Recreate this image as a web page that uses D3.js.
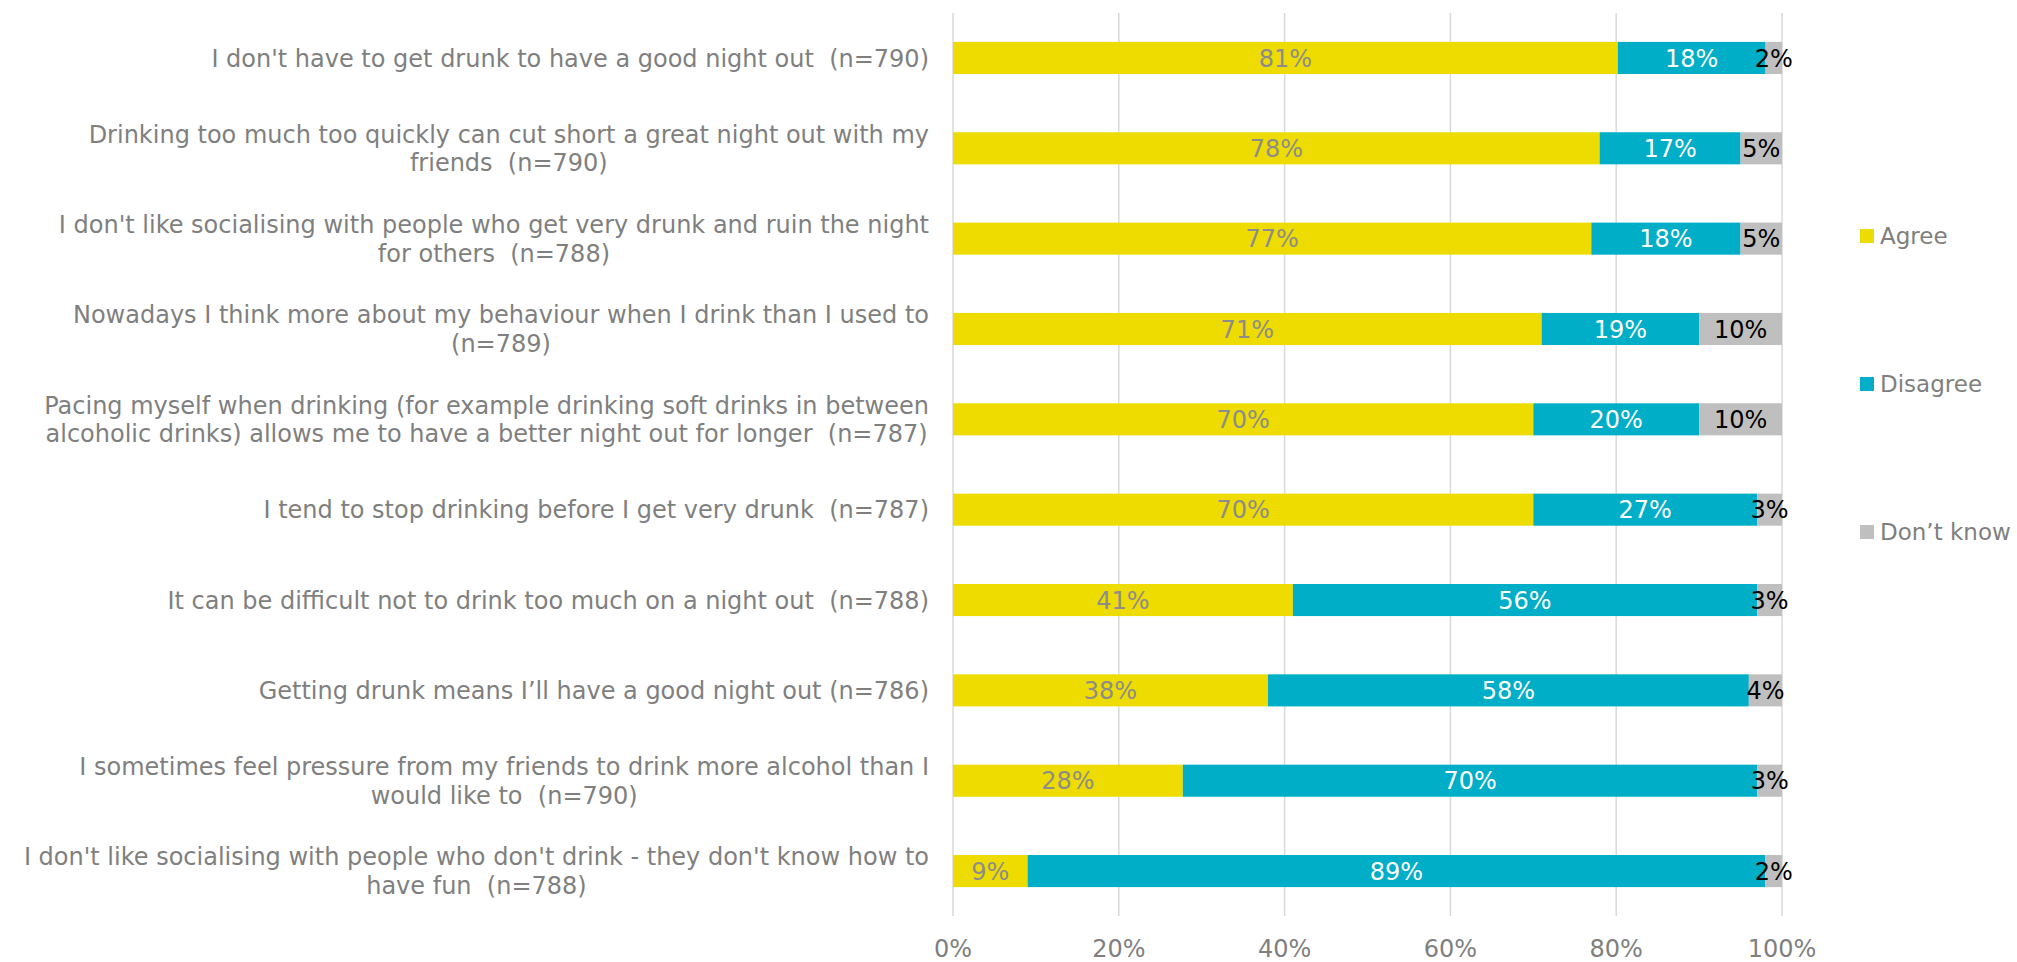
<!DOCTYPE html>
<html>
<head>
<meta charset="utf-8">
<script src="https://cdn.jsdelivr.net/npm/d3@7"></script>
<style>
  html, body { margin: 0; padding: 0; background: #ffffff; }
  svg { display: block; font-family: "DejaVu Sans", Verdana, sans-serif; }
  text { white-space: pre; }
</style>
</head>
<body>
<svg id="chart" width="2017" height="962"></svg>
<script>
// Survey statements (each entry holds the wrapped lines of the label)
const statements = [
  ["I don't have to get drunk to have a good night out  (n=790)"],
  ["Drinking too much too quickly can cut short a great night out with my", "friends  (n=790)"],
  ["I don't like socialising with people who get very drunk and ruin the night", "for others  (n=788)"],
  ["Nowadays I think more about my behaviour when I drink than I used to", "(n=789)"],
  ["Pacing myself when drinking (for example drinking soft drinks in between", "alcoholic drinks) allows me to have a better night out for longer  (n=787)"],
  ["I tend to stop drinking before I get very drunk  (n=787)"],
  ["It can be difficult not to drink too much on a night out  (n=788)"],
  ["Getting drunk means I\u2019ll have a good night out (n=786)"],
  ["I sometimes feel pressure from my friends to drink more alcohol than I", "would like to  (n=790)"],
  ["I don't like socialising with people who don't drink - they don't know how to", "have fun  (n=788)"]
];

// Response shares (%)
const agree    = [81, 78, 77, 71, 70, 70, 41, 38, 28, 9];
const disagree = [18, 17, 18, 19, 20, 27, 56, 58, 70, 89];
const dontKnow = [2, 5, 5, 10, 10, 3, 3, 4, 3, 2];

const seriesNames = ["Agree", "Disagree", "Don\u2019t know"];
const xTicks = [0, 0.2, 0.4, 0.6, 0.8, 1.0];

const colors = ["#EEDC00", "#00AEC7", "#BFBFBF"];
const labelColors = ["#8C8C8C", "#FFFFFF", "#000000"];
const textGray = "#7F7F7F";
const fontSize = 24;
const legendFontSize = 23;

const svg = d3.select("#chart");

const plot = { left: 953, right: 1782, top: 13, bottom: 916 };

const rows = statements.map((s, i) => ({
  idx: i,
  lines: s,
  Agree: agree[i],
  Disagree: disagree[i],
  "Don\u2019t know": dontKnow[i]
}));

const x = d3.scaleLinear().domain([0, 1]).range([plot.left, plot.right]);
const y = d3.scaleBand()
  .domain(rows.map(d => d.idx))
  .range([plot.top, plot.bottom])
  .paddingInner(0.645)
  .paddingOuter(0.32);

// Gridlines
svg.append("g")
  .selectAll("line")
  .data(xTicks)
  .join("line")
  .attr("x1", d => x(d)).attr("x2", d => x(d))
  .attr("y1", plot.top).attr("y2", plot.bottom)
  .attr("stroke", "#D9D9D9")
  .attr("stroke-width", 1.5);

// 100% stacked layout
const stack = d3.stack().keys(seriesNames).offset(d3.stackOffsetExpand);
const layers = stack(rows);

const layerG = svg.append("g")
  .selectAll("g")
  .data(layers)
  .join("g")
  .attr("fill", (d, i) => colors[i]);

layerG.selectAll("rect")
  .data(d => d)
  .join("rect")
  .attr("x", d => x(d[0]))
  .attr("width", d => x(d[1]) - x(d[0]))
  .attr("y", d => y(d.data.idx))
  .attr("height", y.bandwidth());

// Value labels centred in each segment
const labelG = svg.append("g");
layers.forEach((layer, li) => {
  labelG.append("g")
    .selectAll("text")
    .data(layer)
    .join("text")
    .attr("x", d => (x(d[0]) + x(d[1])) / 2)
    .attr("y", d => y(d.data.idx) + y.bandwidth() / 2)
    .attr("dy", "0.36em")
    .attr("text-anchor", "middle")
    .attr("font-size", fontSize)
    .attr("fill", labelColors[li])
    .text(d => d.data[layer.key] + "%");
});

// Category labels: block right-aligned to the axis, lines centred in the block
const catG = svg.append("g");
const labelRight = 929;
const lineGap = 28.5;
rows.forEach(r => {
  const g = catG.append("g");
  const cy = y(r.idx) + y.bandwidth() / 2;
  const n = r.lines.length;
  const texts = r.lines.map((ln, k) => g.append("text")
    .attr("y", cy + (k - (n - 1) / 2) * lineGap)
    .attr("dy", "0.36em")
    .attr("text-anchor", "middle")
    .attr("font-size", fontSize)
    .attr("fill", textGray)
    .text(ln));
  const widths = texts.map(t => t.node().getComputedTextLength());
  const blockW = d3.max(widths);
  texts.forEach(t => t.attr("x", labelRight - blockW / 2));
});

// X axis tick labels
svg.append("g")
  .selectAll("text")
  .data(xTicks)
  .join("text")
  .attr("x", d => x(d))
  .attr("y", 948)
  .attr("dy", "0.36em")
  .attr("text-anchor", "middle")
  .attr("font-size", fontSize)
  .attr("fill", textGray)
  .text(d3.format(".0%"));

// Legend
const legend = svg.append("g")
  .selectAll("g")
  .data(seriesNames)
  .join("g")
  .attr("transform", (d, i) => `translate(1860, ${236 + i * 148})`);

legend.append("rect")
  .attr("x", 0).attr("y", -7)
  .attr("width", 14).attr("height", 14)
  .attr("fill", (d, i) => colors[i]);

legend.append("text")
  .attr("x", 20)
  .attr("y", 0)
  .attr("dy", "0.36em")
  .attr("font-size", legendFontSize)
  .attr("fill", textGray)
  .text(d => d);
</script>
</body>
</html>
